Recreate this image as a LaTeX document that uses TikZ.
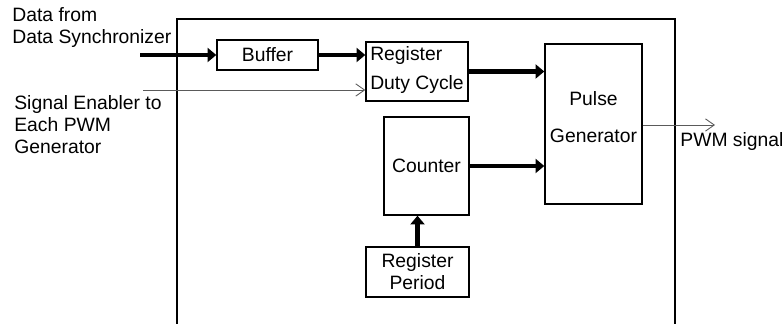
\documentclass[tikz,border=0pt]{standalone}
\usepackage{fontspec}
\setmainfont{Liberation Sans}
\usetikzlibrary{arrows.meta}
\definecolor{wiregray}{RGB}{90,90,90}
\begin{document}
\begin{tikzpicture}[font=\fontsize{11}{12.5}\selectfont,
blk/.style={draw=black, line width=0.8pt, inner sep=0pt, align=center},
bus/.style={line width=2.8pt, -{Triangle[length=5pt,width=8pt]}},
wire/.style={draw=wiregray, line width=0.5pt, -{Straight Barb[length=5pt,width=7pt]}}]
\useasboundingbox (0,0) rectangle (15.68,6.48);
\draw[line width=0.8pt] (3.54,0)--(3.54,6.10)--(13.5,6.10)--(13.5,0);
\node[blk, minimum width=2.02cm, minimum height=0.6cm] (buffer) at (5.35,5.38) {Buffer};
\node[blk, minimum width=2.04cm, minimum height=1.18cm, align=left] (regdc) at (8.34,5.05) {Register\\[4pt]Duty Cycle\\[-8pt]};
\node[blk, minimum width=1.70cm, minimum height=1.96cm] (counter) at (8.53,3.16) {Counter};
\node[blk, minimum width=2.06cm, minimum height=1.0cm] (regper) at (8.35,1.04) {Register\\Period};
\node[blk, minimum width=1.94cm, minimum height=3.2cm] (pulse) at (11.87,4.0) {Pulse\\[8.5pt]Generator\\[-5pt]};
\coordinate (datain) at (2.8,5.38);
\coordinate (enin) at (2.86,4.68);
\coordinate (pwmout) at (14.3,3.98);
\draw[bus] (datain)--(buffer.west);
\draw[bus] (buffer.east)--(buffer.east -| regdc.west);
\draw[wire] (enin)--(enin -| regdc.west);
\draw[bus] (regdc.east)--(regdc.east -| pulse.west);
\draw[bus] (counter.east)--(counter.east -| pulse.west);
\draw[bus] (regper.north)--(regper.north |- counter.south);
\draw[wire] (pulse.east |- pwmout)--(pwmout);
\node[anchor=west, align=left, inner sep=0pt] (datatxt) at (0.24,5.93) {Data from\\Data Synchronizer};
\node[anchor=west, align=left, inner sep=0pt] (entxt) at (0.28,3.99) {Signal Enabler to\\Each PWM\\Generator};
\node[anchor=west, inner sep=0pt] (pwmtxt) at (13.6,3.64) {PWM signal};
\end{tikzpicture}
\end{document}
